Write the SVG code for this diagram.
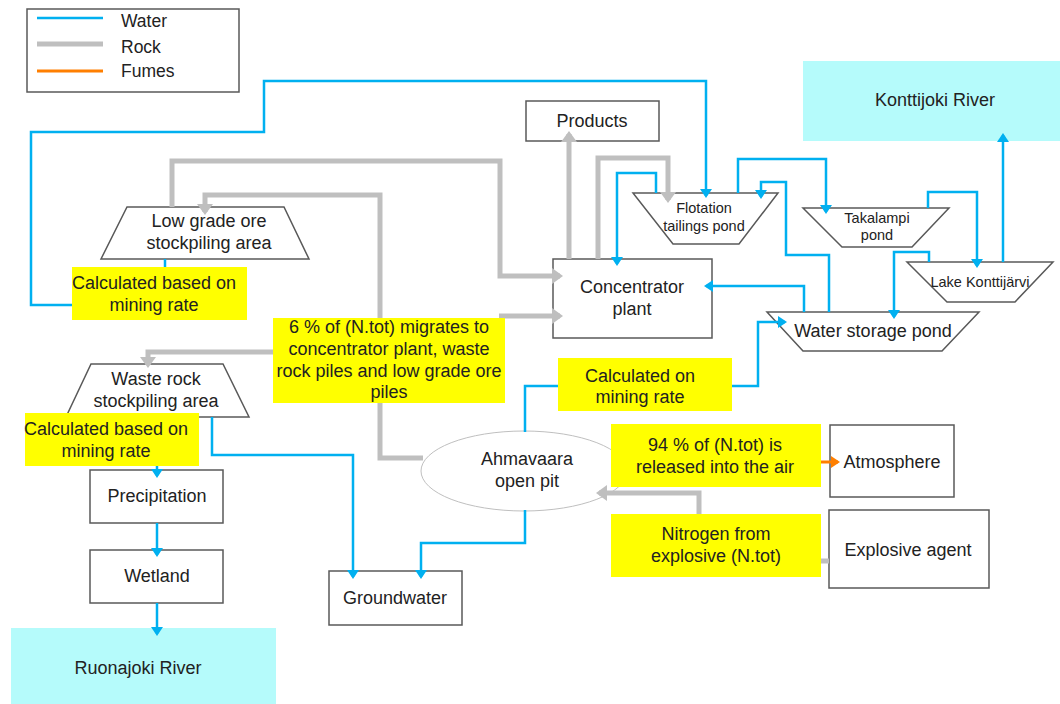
<svg xmlns="http://www.w3.org/2000/svg" width="1060" height="704" viewBox="0 0 1060 704">
<style>
text{font-family:"Liberation Sans",Arial,sans-serif;font-size:18px;fill:#222;text-anchor:middle}
.sm{font-size:14.5px}
.lg{text-anchor:start;font-size:17.5px}
.box{fill:#fff;stroke:#595959;stroke-width:1.5}
.river{fill:#b5fbfb;stroke:none}
.lbl{fill:#ffff00;stroke:none}
.w{fill:none;stroke:#00b0f0;stroke-width:2.5}
.r{fill:none;stroke:#bfbfbf;stroke-width:5}
.f{fill:none;stroke:#ff7f00;stroke-width:3}
.wa{marker-end:url(#ab)}
.ra{marker-end:url(#ag)}
</style>
<defs>
<marker id="ab" markerUnits="userSpaceOnUse" viewBox="0 0 9 12" markerWidth="9" markerHeight="12" refX="7" refY="6" orient="auto"><path d="M0,0 L9,6 L0,12 z" fill="#00b0f0"/></marker>
<marker id="ag" markerUnits="userSpaceOnUse" viewBox="0 0 11 16" markerWidth="11" markerHeight="16" refX="8" refY="8" orient="auto"><path d="M0,0 L11,8 L0,16 z" fill="#bfbfbf"/></marker>
<marker id="ao" markerUnits="userSpaceOnUse" viewBox="0 0 9 12" markerWidth="9" markerHeight="12" refX="7" refY="6" orient="auto"><path d="M0,0 L9,6 L0,12 z" fill="#ff7f00"/></marker>
</defs>
<rect width="1060" height="704" fill="#fff"/>

<g id="legend">
<rect x="27" y="9" width="212" height="83" fill="#fff" stroke="#595959" stroke-width="1.5"/>
<line x1="37" y1="18" x2="103" y2="18" class="w" stroke-width="3"/>
<line x1="37" y1="44" x2="103" y2="44" class="r"/>
<line x1="37" y1="71" x2="103" y2="71" class="f"/>
<text x="121" y="27" class="lg">Water</text>
<text x="121" y="53" class="lg">Rock</text>
<text x="121" y="77" class="lg">Fumes</text>
</g>

<g id="konttijoki-river"><rect x="803" y="61" width="257" height="80" class="river"/><text x="935" y="106">Konttijoki River</text></g>
<g id="ruonajoki-river"><rect x="11" y="628" width="265" height="76" class="river"/><text x="138" y="674">Ruonajoki River</text></g>
<g id="products"><rect x="526" y="101" width="133" height="40" class="box"/><text x="592" y="127">Products</text></g>
<g id="concentrator-plant"><rect x="553" y="259" width="159" height="79" class="box"/><text x="632" y="293">Concentrator</text><text x="632" y="315">plant</text></g>
<g id="low-grade-ore"><polygon points="127,207 284,207 309,259 101,259" class="box"/><text x="209" y="227">Low grade ore</text><text x="209" y="249">stockpiling area</text></g>
<g id="waste-rock"><polygon points="91,364 223,364 249,417 66,417" class="box"/><text x="156" y="385">Waste rock</text><text x="156" y="407">stockpiling area</text></g>
<g id="flotation-pond"><polygon points="633,193 778,193 739,244 673,244" class="box"/><text x="704" y="213" class="sm">Flotation</text><text x="704" y="231" class="sm">tailings pond</text></g>
<g id="takalampi-pond"><polygon points="803,208 949,208 912,247 842,247" class="box"/><text x="877" y="223" class="sm">Takalampi</text><text x="877" y="240" class="sm">pond</text></g>
<g id="lake-konttijarvi"><polygon points="907,262 1053,262 1015,302 947,302" class="box"/><text x="980" y="287" class="sm">Lake Konttijärvi</text></g>
<g id="water-storage-pond"><polygon points="767,312 979,312 942,351 803,351" class="box"/><text x="873" y="337">Water storage pond</text></g>
<g id="open-pit"><ellipse cx="524" cy="471" rx="103" ry="40" fill="#fff" stroke="#bfbfbf" stroke-width="1"/><text x="527" y="465">Ahmavaara</text><text x="527" y="487">open pit</text></g>
<g id="atmosphere"><rect x="830" y="425" width="124" height="72" class="box"/><text x="892" y="468">Atmosphere</text></g>
<g id="explosive-agent"><rect x="829" y="510" width="160" height="78" class="box"/><text x="908" y="556">Explosive agent</text></g>
<g id="precipitation"><rect x="90" y="470" width="133" height="53" class="box"/><text x="157" y="502">Precipitation</text></g>
<g id="wetland"><rect x="90" y="550" width="133" height="53" class="box"/><text x="157" y="582">Wetland</text></g>
<g id="groundwater"><rect x="329" y="571" width="133" height="54" class="box"/><text x="395" y="604">Groundwater</text></g>

<g id="connectors">
<path class="w" d="M165,259 V267"/>
<path class="w wa" d="M73,305 H31 V132 H264 V81 H706 V196"/>
<path class="w wa" d="M656,193 V173 H617 V264"/>
<path class="w wa" d="M738,193 V159 H826 V212"/>
<path class="w wa" d="M829,312 V255 H786 V182 H761 V197"/>
<path class="w wa" d="M928,208 V192 H977 V266"/>
<path class="w wa" d="M929,262 V252 H894 V317"/>
<path class="w wa" d="M1003,262 V135"/>
<path class="w wa" d="M804,312 V286 H706"/>
<path class="w" d="M525,432 V386 H558"/>
<path class="w wa" d="M732,386 H758 V322 H785"/>
<path class="w wa" d="M525,510 V543 H421 V577"/>
<path class="w wa" d="M212,417 V455 H353 V577"/>
<path class="w wa" d="M157,466 V476"/>
<path class="w wa" d="M157,523 V555"/>
<path class="w wa" d="M157,603 V634"/>
<path class="r ra" d="M172,207 V161 H500 V276 H560"/>
<path class="r ra" d="M499,316 H560"/>
<path class="r ra" d="M423,458 H380 V195 H205 V212"/>
<path class="r ra" d="M275,352 H148 V365"/>
<path class="r ra" d="M569,259 V134"/>
<path class="r ra" d="M598,259 V158 H668 V200"/>
<path class="r" d="M829,561 H821"/>
<path class="r ra" d="M699,514 V493 H599"/>
<path class="f" d="M821,462 H838" marker-end="url(#ao)"/>
</g>

<g id="label-low-grade"><rect x="72" y="267" width="175" height="53" class="lbl"/><text x="154" y="289">Calculated based on</text><text x="154" y="311">mining rate</text></g>
<g id="label-waste-rock"><rect x="25" y="413" width="174" height="53" class="lbl"/><text x="106" y="435">Calculated based on</text><text x="106" y="457">mining rate</text></g>
<g id="label-six-percent"><rect x="273" y="318" width="232" height="85" class="lbl"/><text x="389" y="333">6 % of (N.tot) migrates to</text><text x="389" y="355">concentrator plant, waste</text><text x="389" y="377">rock piles and low grade ore</text><text x="389" y="398">piles</text></g>
<g id="label-mining-rate"><rect x="558" y="358" width="174" height="53" class="lbl"/><text x="640" y="382">Calculated on</text><text x="640" y="403">mining rate</text></g>
<g id="label-94-percent"><rect x="611" y="424" width="210" height="63" class="lbl"/><text x="715" y="451">94 % of (N.tot) is</text><text x="715" y="473">released into the air</text></g>
<g id="label-nitrogen"><rect x="611" y="514" width="210" height="63" class="lbl"/><text x="716" y="540">Nitrogen from</text><text x="716" y="562">explosive (N.tot)</text></g>
</svg>
